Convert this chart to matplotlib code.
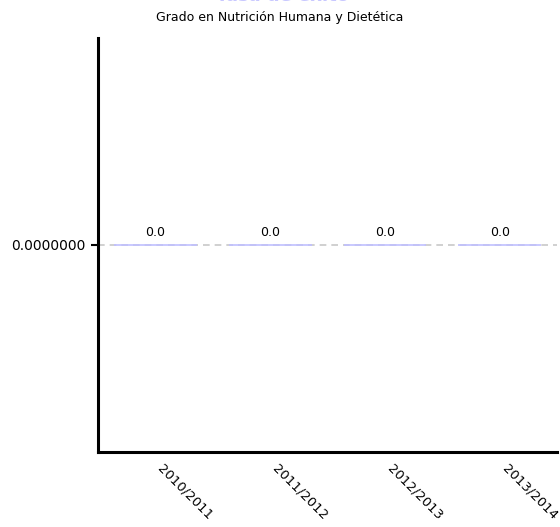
import matplotlib
matplotlib.use("Agg")
import matplotlib.pyplot as plt

courses = ["2010/2011", "2011/2012", "2012/2013", "2013/2014"]
values = [0.0, 0.0, 0.0, 0.0]
mean_value = 0.0
subtitle = "Grado en Nutrición Humana y Dietética"
title = "Tasa de éxito"

fig = plt.figure(figsize=(5.6, 5.27), dpi=100)
ax = fig.add_axes([0.175, 0.1423, 0.82, 0.7857])

x = range(len(courses))
# zero-height bars -> only their edge is visible
ax.bar(x, values, width=0.72, color="#c8c8ff", edgecolor="#c0c0ff", linewidth=1.2, zorder=3)
ax.axhline(mean_value, color="#c8c8c8", linestyle=(0, (4, 3)), linewidth=1.2, zorder=2)

for i, v in zip(x, values):
    ax.annotate(f"{v:.1f}", (i, v), xytext=(0, 4), textcoords="offset points",
                ha="center", va="bottom", fontsize=9)

ax.set_xlim(-0.5, len(courses) - 0.5)
ax.set_ylim(-0.06, 0.06)
ax.set_yticks([mean_value])
ax.set_yticklabels([f"{mean_value:.7f}"], fontsize=10)
ax.set_xticks(list(x))
ax.set_xticklabels(courses, rotation=-45, ha="left", va="top", fontsize=9.5)
ax.tick_params(axis="x", length=0, pad=7)
ax.tick_params(axis="y", length=5, width=1.5, pad=4)

for side in ["top", "right"]:
    ax.spines[side].set_visible(False)
for side in ["left", "bottom"]:
    ax.spines[side].set_linewidth(2.2)

fig.text(0.5, 0.967, subtitle, ha="center", va="center", fontsize=9)
# main title sits mostly above the top edge, as in the original
fig.text(0.505, 0.9975, title, ha="center", va="baseline", fontsize=13,
         fontweight="bold", color="#c8c8ff")

fig.savefig("out.png", dpi=100)
